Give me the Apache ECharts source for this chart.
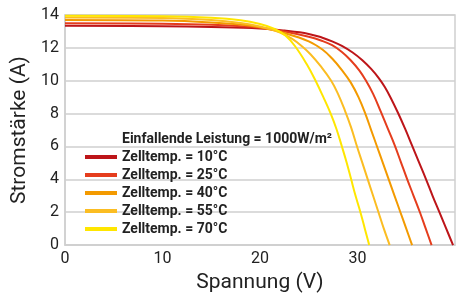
<!DOCTYPE html>
<html>
<head>
<meta charset="utf-8">
<script src="https://cdn.jsdelivr.net/npm/echarts@6/dist/echarts.min.js"></script>
<style>
  html,body{margin:0;padding:0;background:#fff}
  #chart{width:464px;height:298px}
</style>
</head>
<body>
<div id="chart"></div>
<script>
// I-V Kennlinien, Werte [Spannung V, Strom A]
const names = ['Zelltemp. = 10°C', 'Zelltemp. = 25°C', 'Zelltemp. = 40°C', 'Zelltemp. = 55°C', 'Zelltemp. = 70°C']
const colors = ['#bd1519', '#e53d1d', '#f39a00', '#fbbd22', '#ffe600']

const t10 = [[0,13.35],[10,13.32],[15,13.27],[20,13.18],[22.5,13.05],[25,12.85],[26.4,12.62],[27.4,12.4],[28.4,12.12],[29.5,11.72],[30.5,11.25],[31.4,10.72],[32.2,10.15],[32.8,9.62],[33.4,8.97],[34.15,8.05],[34.9,7.05],[35.6,6.05],[36.3,5.05],[37,4.05],[37.7,3],[38.4,2],[39.1,1],[39.8,0]]
const t25 = [[0,13.5],[10,13.47],[15,13.4],[20,13.23],[22.5,13.0],[25,12.68],[26.4,12.42],[27.4,12.16],[28.4,11.75],[29.3,11.25],[30.2,10.62],[30.8,10.07],[31.6,9.2],[32.4,8.1],[33.1,7.1],[33.8,6.1],[34.45,5.05],[35.1,4],[35.75,3],[36.4,2],[37,1],[37.6,0]]
const t40 = [[0,13.7],[10,13.66],[15,13.55],[18,13.42],[20,13.25],[22.5,12.9],[25,12.4],[26.4,11.9],[27.4,11.35],[28.4,10.65],[29.3,9.9],[30.1,9],[30.8,8],[31.4,7],[32,6],[32.6,5],[33.2,4],[33.8,3],[34.4,2],[35,1],[35.6,0]]
const t55 = [[0,13.85],[10,13.82],[15,13.7],[18,13.52],[20,13.3],[22,12.95],[23.3,12.55],[24.3,12.1],[25.2,11.6],[26.2,10.9],[27.3,10],[28,9.2],[28.7,8.2],[29.35,7.15],[29.95,6],[30.5,5],[31.05,4],[31.6,3],[32.15,2],[32.7,1],[33.3,0]]
const t70 = [[0,13.95],[10,13.92],[15,13.83],[18,13.68],[20,13.45],[21.5,13.15],[22.6,12.75],[23.6,12.1],[24.8,11],[25.7,10],[26.5,9],[27.25,8],[27.85,7.05],[28.4,6],[28.9,5],[29.35,4],[29.8,3],[30.3,2],[30.75,1],[31.2,0]]
const curves = [t10, t25, t40, t55, t70]

const xTicks = [0, 10, 20, 30]
const FONT = 'Roboto'

const chart = echarts.init(document.getElementById('chart'))
chart.setOption({
  animation: false,
  textStyle: { fontFamily: FONT },
  grid: { left: 65, right: 9, top: 15, bottom: 50, show: true, borderColor: '#cfcfcf', borderWidth: 1.5 },
  title: {
    text: 'Einfallende Leistung = 1000W/m²',
    left: 117, top: 127,
    textStyle: { fontSize: 14, fontWeight: 'bold', color: '#222', fontFamily: FONT }
  },
  legend: {
    orient: 'vertical', left: 80, top: 145,
    itemWidth: 32, itemHeight: 4, itemGap: 4,
    icon: 'rect',
    data: names,
    textStyle: { fontSize: 14, fontWeight: 'bold', color: '#222', fontFamily: FONT }
  },
  xAxis: {
    type: 'value', min: 0, max: 40, interval: 10,
    name: 'Spannung (V)', nameLocation: 'middle', nameGap: 26,
    nameTextStyle: { fontSize: 21, color: '#222' },
    axisLine: { show: true, lineStyle: { color: '#cfcfcf', width: 1.5 } },
    axisTick: { show: false },
    axisLabel: { fontSize: 16, color: '#222', margin: 6, formatter: v => xTicks.includes(v) ? String(v) : '' },
    splitLine: { show: false }
  },
  yAxis: {
    type: 'value', min: 0, max: 14, interval: 2,
    name: 'Stromstärke (A)', nameLocation: 'middle', nameGap: 24,
    nameTextStyle: { fontSize: 21, color: '#222' },
    axisLine: { show: true, lineStyle: { color: '#cfcfcf', width: 1.5 } },
    axisTick: { show: false },
    axisLabel: { fontSize: 16, color: '#222', margin: 6 },
    splitLine: { show: true, lineStyle: { color: '#cfcfcf', width: 1.5 } }
  },
  series: curves.map((d, i) => ({
    name: names[i],
    type: 'line',
    data: d,
    smooth: 0.4,
    showSymbol: false,
    color: colors[i],
    lineStyle: { width: 2, color: colors[i] }
  }))
})
</script>
</body>
</html>
